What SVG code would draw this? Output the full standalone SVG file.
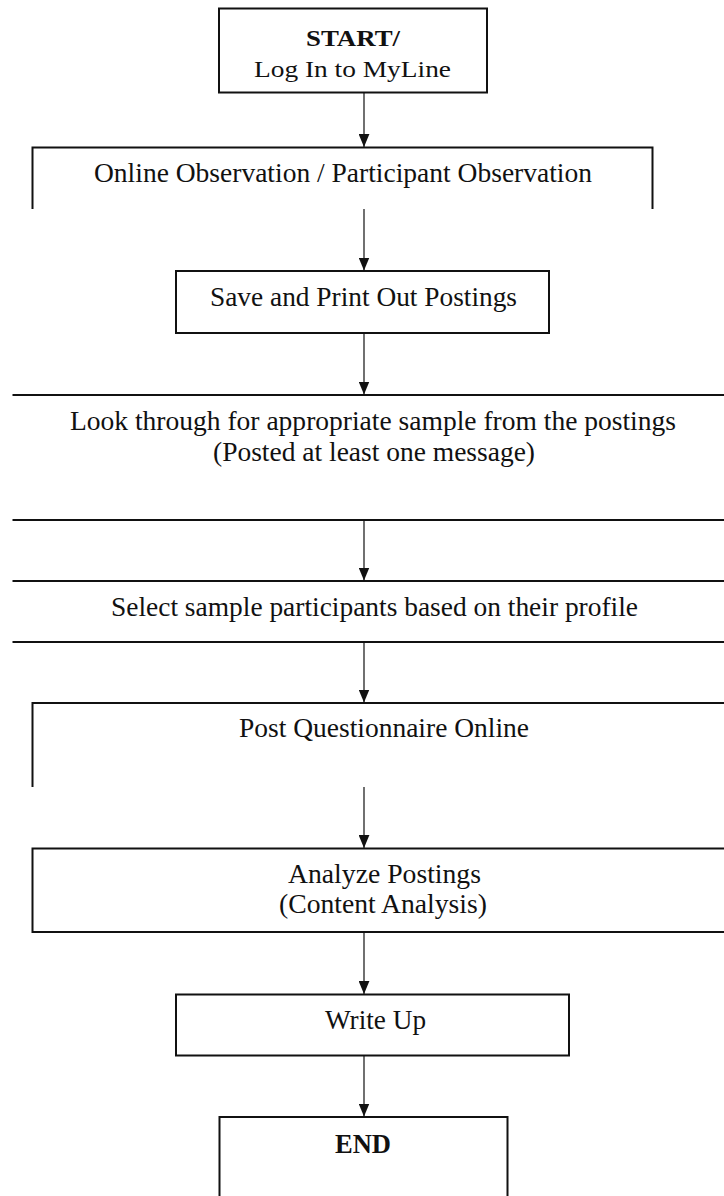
<svg xmlns="http://www.w3.org/2000/svg" width="724" height="1196" viewBox="0 0 724 1196">
<style>
.box{fill:none;stroke:#111;stroke-width:2}
.edge{fill:none;stroke:#111;stroke-width:1.2}
text{font-family:"Liberation Serif","Times New Roman",serif;font-size:28px;fill:#111;text-anchor:middle}
.s{font-size:24px}
.b{font-weight:bold}
</style>
<defs>
<marker id="ah" markerUnits="userSpaceOnUse" markerWidth="13" markerHeight="11" refX="12" refY="5" orient="auto" viewBox="0 0 12 10">
<path d="M0,0 L12,5 L0,10 Z" fill="#111"/>
</marker>
</defs>
<rect width="724" height="1196" fill="#fff"/>
<g id="start">
<rect class="box" x="219" y="8.5" width="268" height="84"/>
<text class="b s" x="353" y="45.5" textLength="94" lengthAdjust="spacingAndGlyphs">START/</text>
<text class="s" x="352.5" y="76.5" textLength="197" lengthAdjust="spacingAndGlyphs">Log In to MyLine</text>
</g>
<g id="observation">
<path class="box" d="M32.5,209 V147.5 H652.5 V209"/>
<text x="343" y="181.5" textLength="498" lengthAdjust="spacingAndGlyphs">Online Observation / Participant Observation</text>
</g>
<g id="save">
<rect class="box" x="176" y="271" width="373" height="62"/>
<text x="363.5" y="305.5" textLength="307" lengthAdjust="spacingAndGlyphs">Save and Print Out Postings</text>
</g>
<g id="lookthrough">
<path class="box" d="M12.5,395 H724 M12.5,520 H724"/>
<text x="373" y="430" textLength="606" lengthAdjust="spacingAndGlyphs">Look through for appropriate sample from the postings</text>
<text x="374" y="461" textLength="322" lengthAdjust="spacingAndGlyphs">(Posted at least one message)</text>
</g>
<g id="select">
<path class="box" d="M12.5,581 H724 M12.5,642 H724"/>
<text x="374.5" y="616" textLength="527" lengthAdjust="spacingAndGlyphs">Select sample participants based on their profile</text>
</g>
<g id="questionnaire">
<path class="box" d="M32.5,787 V703 H724"/>
<text x="384" y="737" textLength="290" lengthAdjust="spacingAndGlyphs">Post Questionnaire Online</text>
</g>
<g id="analyze">
<path class="box" d="M724,848.5 H32.5 V932 H724"/>
<text x="384.5" y="883" textLength="193" lengthAdjust="spacingAndGlyphs">Analyze Postings</text>
<text x="383" y="913" textLength="208" lengthAdjust="spacingAndGlyphs">(Content Analysis)</text>
</g>
<g id="writeup">
<rect class="box" x="176" y="994.5" width="393" height="61"/>
<text x="375.5" y="1028.5" textLength="101" lengthAdjust="spacingAndGlyphs">Write Up</text>
</g>
<g id="end">
<path class="box" d="M219.5,1200 V1117 H507.5 V1200"/>
<text class="b" x="363" y="1153" textLength="56" lengthAdjust="spacingAndGlyphs">END</text>
</g>
<g id="connectors">
<line class="edge" x1="364" y1="92.5" x2="364" y2="147" marker-end="url(#ah)"/>
<line class="edge" x1="364" y1="209" x2="364" y2="270.5" marker-end="url(#ah)"/>
<line class="edge" x1="364" y1="333" x2="364" y2="394.5" marker-end="url(#ah)"/>
<line class="edge" x1="364" y1="520" x2="364" y2="580.5" marker-end="url(#ah)"/>
<line class="edge" x1="364" y1="642" x2="364" y2="702.5" marker-end="url(#ah)"/>
<line class="edge" x1="364" y1="787" x2="364" y2="848" marker-end="url(#ah)"/>
<line class="edge" x1="364" y1="932" x2="364" y2="994" marker-end="url(#ah)"/>
<line class="edge" x1="364" y1="1055.5" x2="364" y2="1116.5" marker-end="url(#ah)"/>
</g>
</svg>
